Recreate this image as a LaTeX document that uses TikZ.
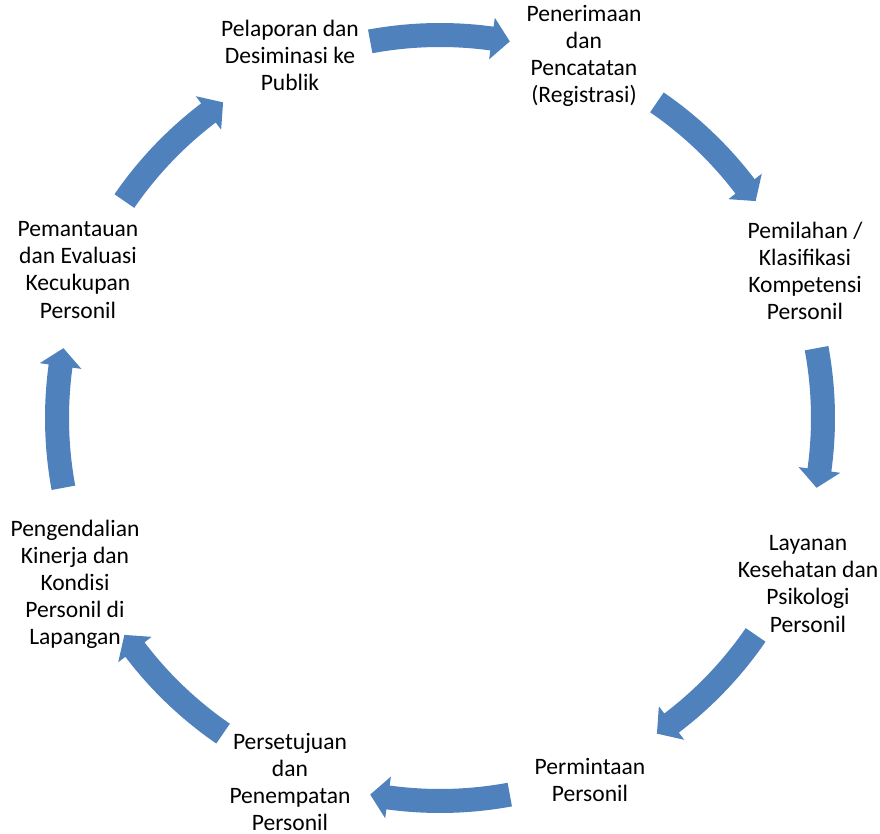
\documentclass[tikz,border=0pt]{standalone}
\usepackage{fontspec}
\setmainfont{Carlito}
\definecolor{ringblue}{RGB}{79,129,189}
\begin{document}
\begin{tikzpicture}[stage/.style={align=center, inner sep=2pt, font=\fontsize{13.4}{15.4}\selectfont},
  ringarrow/.style={fill=ringblue, draw=none}]
\useasboundingbox (0,0) rectangle (17.6,16.68);
\coordinate (c) at (8.8,8.32);
\node[stage] (n1) at (11.68,15.56) {Penerimaan\\dan\\Pencatatan\\(Registrasi)};
\node[stage] (n2) at (16.10,11.26) {Pemilahan /\\Klasifikasi\\Kompetensi\\Personil};
\node[stage] (n3) at (16.16,5.00) {Layanan\\Kesehatan dan\\Psikologi\\Personil};
\node[stage] (n4) at (11.80,1.08) {Permintaan\\Personil};
\node[stage] (n5) at (5.80,1.04) {Persetujuan\\dan\\Penempatan\\Personil};
\node[stage] (n6) at (1.50,5.00) {Pengendalian\\Kinerja dan\\Kondisi\\Personil di\\Lapangan};
\node[stage] (n7) at (1.56,11.28) {Pemantauan\\dan Evaluasi\\Kecukupan\\Personil};
\node[stage] (n8) at (5.80,15.58) {Pelaporan dan\\Desiminasi ke\\Publik};
% block arrows round the ring, clockwise
\foreach \a in {90,45,0,-45,-90,-135,-180,-225}
  \fill[ringarrow, shift={(c)}] (\a+10.5:7.42) -- (\a+10.5:7.90)
    arc[start angle=\a+10.5, end angle=\a-7.8, radius=7.90]
    -- (\a-7.8:8.08) -- (\a-10.5:7.66) -- (\a-7.8:7.24) -- (\a-7.8:7.42)
    arc[start angle=\a-7.8, end angle=\a+10.5, radius=7.42] -- cycle;
\end{tikzpicture}
\end{document}
